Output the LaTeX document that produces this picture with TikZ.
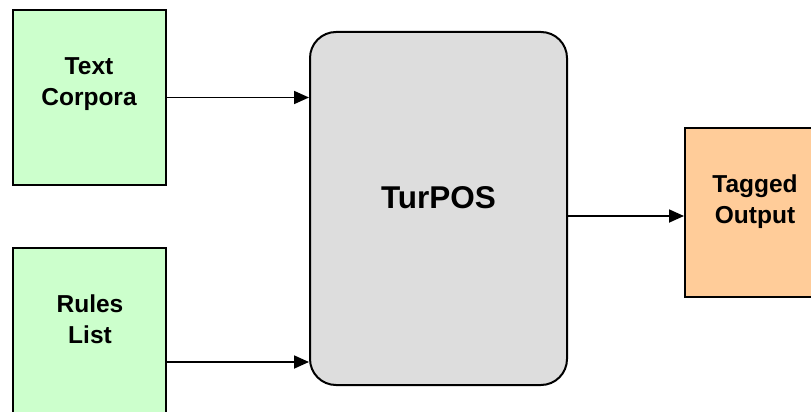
\documentclass[tikz,border=0pt]{standalone}
\usepackage{fontspec}
\setmainfont{Liberation Sans}
\usetikzlibrary{arrows.meta}
\definecolor{inputgreen}{HTML}{CCFFCC}
\definecolor{outputorange}{HTML}{FFCC99}
\definecolor{coregray}{HTML}{DDDDDD}
\begin{document}
\begin{tikzpicture}[x=1pt, y=-1pt,
        box/.style={draw, line width=2pt, inner sep=0pt},
        boxtext/.style={align=center, font=\fontsize{24.5}{31}\selectfont\bfseries},
        flow/.style={line width=1.8pt, -{Triangle[length=15pt, width=13pt]}}]
    \useasboundingbox (0, 0) rectangle (811, 412);
    \node[box, fill=inputgreen, minimum width=153pt, minimum height=175pt]
        (corpora) at (89, 97.5) {};
    \node[boxtext] at ([yshift=13pt]corpora.center) {Text\\Corpora};
    \node[box, fill=inputgreen, minimum width=153pt, minimum height=182pt]
        (rules) at (89, 339) {};
    \node[boxtext] at (90, 319) {Rules\\List};
    \node[box, fill=coregray, rounded corners=26pt, minimum width=257pt, minimum height=353pt]
        (turpos) at (438.5, 208.5) {};
    \node[boxtext, font=\fontsize{31.5}{36}\selectfont\bfseries] at ([yshift=11pt]turpos.center) {TurPOS};
    \node[box, fill=outputorange, minimum width=155pt, minimum height=169pt]
        (tagged) at (762.5, 212.5) {};
    \node[boxtext] at (755, 202) {Tagged\\Output};
    % connectors
    \coordinate (rulesin) at (238, 362);
    \coordinate (taggedin) at (626, 216);
    \draw[flow] (corpora.east) -- (turpos.west |- corpora.east);
    \draw[flow] (rules.east |- rulesin) -- (turpos.west |- rulesin);
    \draw[flow] (turpos.east |- taggedin) -- (tagged.west |- taggedin);
\end{tikzpicture}
\end{document}
